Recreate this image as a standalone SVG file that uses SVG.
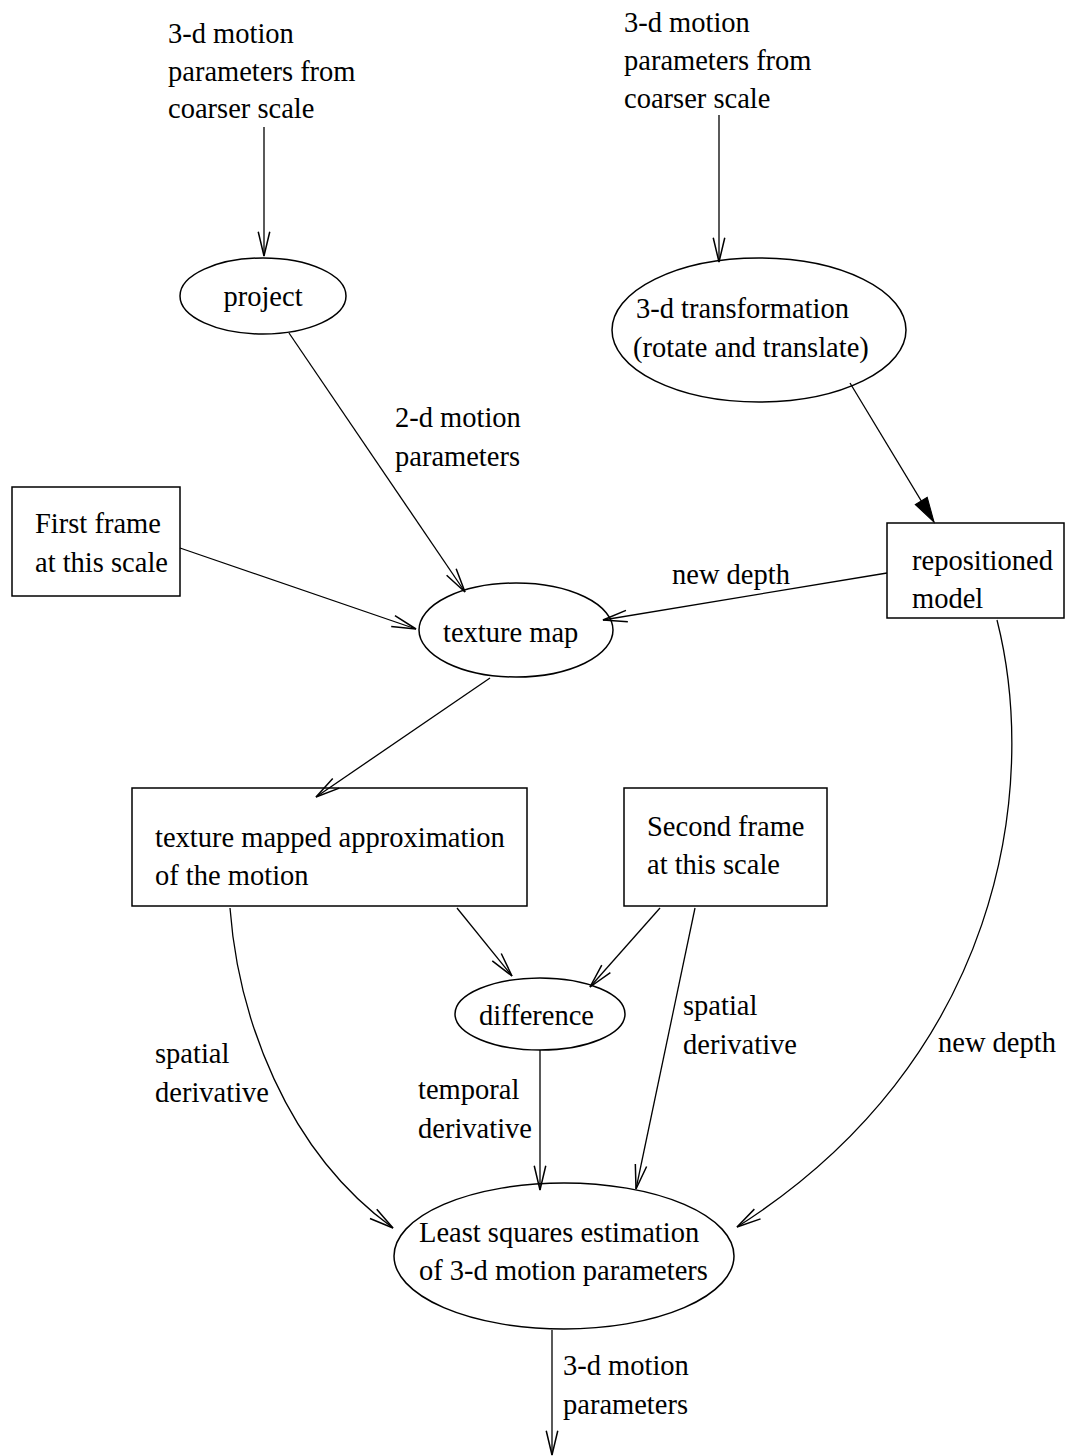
<svg xmlns="http://www.w3.org/2000/svg" width="1065" height="1456" viewBox="0 0 1065 1456">
<style>
text{font-family:"Liberation Serif","Times New Roman",serif;font-size:28.5px;fill:#000}
.n{fill:none;stroke:#000;stroke-width:1.5}
.c{fill:none;stroke:#000;stroke-width:1.3}
</style>
<defs>
<marker id="open" markerUnits="userSpaceOnUse" markerWidth="30" markerHeight="20" viewBox="-24 -8 26 16" refX="0" refY="0" orient="auto">
<path d="M-21,-5 L0,0 L-21,5" fill="none" stroke="#000" stroke-width="1.3"/>
</marker>
<marker id="filled" markerUnits="userSpaceOnUse" markerWidth="30" markerHeight="20" viewBox="-26 -9 28 18" refX="0" refY="0" orient="auto">
<path d="M-23,-6.5 L0,0 L-23,6.5 Z" fill="#000" stroke="#000" stroke-width="1"/>
</marker>
</defs>
<rect width="1065" height="1456" fill="#fff"/>

<g id="input-left">
<text x="168" y="43">3-d motion</text>
<text x="168" y="81">parameters from</text>
<text x="168" y="118">coarser scale</text>
</g>
<g id="input-right">
<text x="624" y="32">3-d motion</text>
<text x="624" y="70">parameters from</text>
<text x="624" y="108">coarser scale</text>
</g>
<g id="project">
<ellipse class="n" cx="263" cy="296" rx="83" ry="38"/>
<text x="263" y="306" text-anchor="middle">project</text>
</g>
<g id="transform">
<ellipse class="n" cx="759" cy="330" rx="147" ry="72"/>
<text x="636" y="318">3-d transformation</text>
<text x="633" y="357">(rotate and translate)</text>
</g>
<g id="first-frame">
<rect class="n" x="12" y="487" width="168" height="109"/>
<text x="35" y="533">First frame</text>
<text x="35" y="572">at this scale</text>
</g>
<g id="repositioned">
<rect class="n" x="887" y="523" width="177" height="95"/>
<text x="912" y="570">repositioned</text>
<text x="912" y="608">model</text>
</g>
<g id="texture-map">
<ellipse class="n" cx="516" cy="630" rx="97" ry="47"/>
<text x="443" y="642">texture map</text>
</g>
<g id="approx">
<rect class="n" x="132" y="788" width="395" height="118"/>
<text x="155" y="847">texture mapped approximation</text>
<text x="155" y="885">of the motion</text>
</g>
<g id="second-frame">
<rect class="n" x="624" y="788" width="203" height="118"/>
<text x="647" y="836">Second frame</text>
<text x="647" y="874">at this scale</text>
</g>
<g id="difference">
<ellipse class="n" cx="540" cy="1014" rx="85" ry="36"/>
<text x="479" y="1025">difference</text>
</g>
<g id="least-squares">
<ellipse class="n" cx="564" cy="1256" rx="170" ry="73"/>
<text x="419" y="1242">Least squares estimation</text>
<text x="419" y="1280">of 3-d motion parameters</text>
</g>

<g id="connectors">
<path class="c" d="M264,127 V256" marker-end="url(#open)"/>
<path class="c" d="M719,115 V262" marker-end="url(#open)"/>
<path class="c" d="M289,333 L465,592" marker-end="url(#open)"/>
<path class="c" d="M180,548 L416,629" marker-end="url(#open)"/>
<path class="c" d="M887,573 L603,620" marker-end="url(#open)"/>
<path class="c" d="M850,383 L934,522" marker-end="url(#filled)"/>
<path class="c" d="M490,678 L316,797" marker-end="url(#open)"/>
<path class="c" d="M457,908 L512,976" marker-end="url(#open)"/>
<path class="c" d="M660,908 L590,987" marker-end="url(#open)"/>
<path class="c" d="M540,1050 V1190" marker-end="url(#open)"/>
<path class="c" d="M695,908 L636,1189" marker-end="url(#open)"/>
<path class="c" d="M230,908 C238,1015 285,1150 393,1228" marker-end="url(#open)"/>
<path class="c" d="M997,620 C1040,790 1000,1060 737,1227" marker-end="url(#open)"/>
<path class="c" d="M552,1330 V1455" marker-end="url(#open)"/>
</g>

<g id="labels">
<text x="395" y="427">2-d motion</text>
<text x="395" y="466">parameters</text>
<text x="672" y="584">new depth</text>
<text x="155" y="1063">spatial</text>
<text x="155" y="1102">derivative</text>
<text x="418" y="1099">temporal</text>
<text x="418" y="1138">derivative</text>
<text x="683" y="1015">spatial</text>
<text x="683" y="1054">derivative</text>
<text x="938" y="1052">new depth</text>
<text x="563" y="1375">3-d motion</text>
<text x="563" y="1414">parameters</text>
</g>
</svg>
